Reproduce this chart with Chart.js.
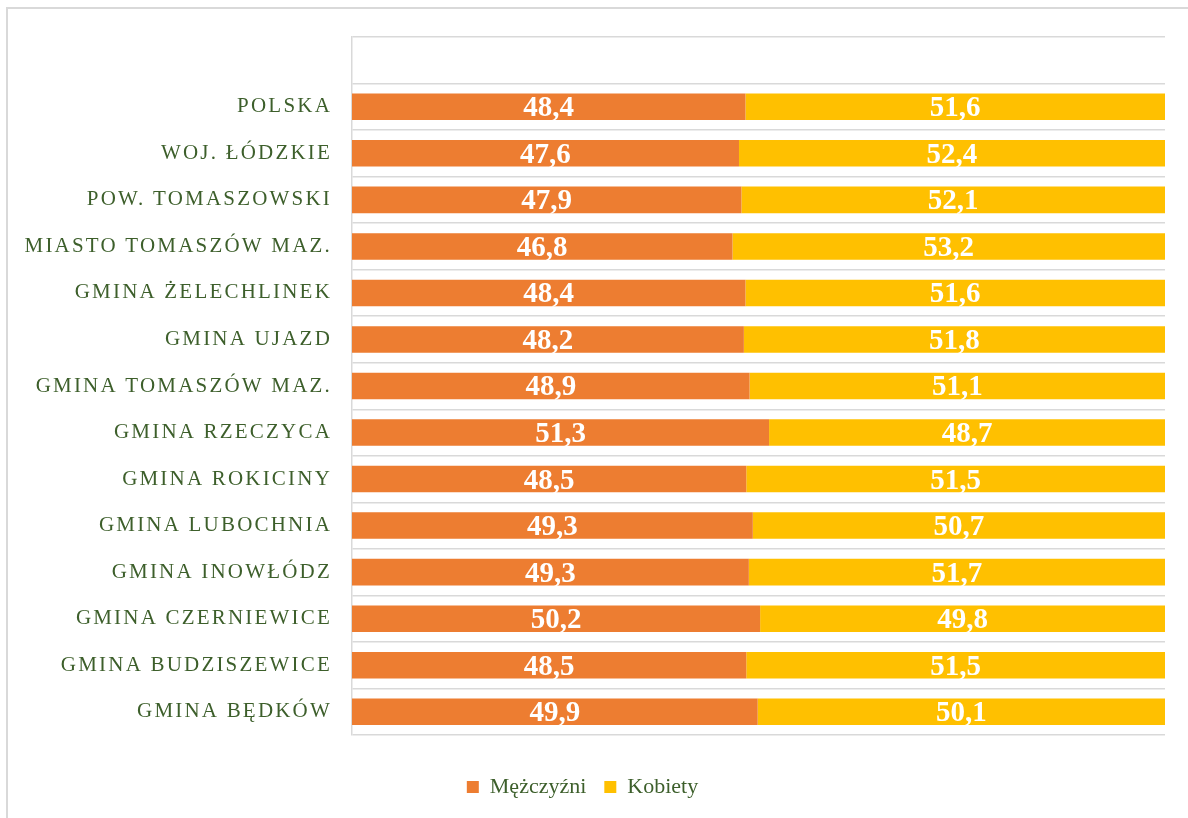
<!DOCTYPE html>
<html>
<head>
<meta charset="utf-8">
<script src="https://cdn.jsdelivr.net/npm/chart.js@4"></script>
<style>
  html, body { margin: 0; padding: 0; background: #fff; }
  #frame { position: absolute; left: 6px; top: 7px; width: 1300px; height: 900px;
           border-left: 2px solid #d9d9d9; border-top: 2px solid #d9d9d9; }
  #chart { position: absolute; left: 0; top: 0; }
</style>
</head>
<body>
<div id="frame"></div>
<canvas id="chart" width="1188" height="818"></canvas>
<script>
  const categories = [
    "POLSKA", "WOJ. ŁÓDZKIE", "POW. TOMASZOWSKI", "MIASTO TOMASZÓW MAZ.",
    "GMINA ŻELECHLINEK", "GMINA UJAZD", "GMINA TOMASZÓW MAZ.", "GMINA RZECZYCA",
    "GMINA ROKICINY", "GMINA LUBOCHNIA", "GMINA INOWŁÓDZ", "GMINA CZERNIEWICE",
    "GMINA BUDZISZEWICE", "GMINA BĘDKÓW",
  ];
  const men = [48.4, 47.6, 47.9, 46.8, 48.4, 48.2, 48.9, 51.3, 48.5, 49.3, 49.3, 50.2, 48.5, 49.9];
  const women = [51.6, 52.4, 52.1, 53.2, 51.6, 51.8, 51.1, 48.7, 51.5, 50.7, 51.7, 49.8, 51.5, 50.1];

  // 100% stacked: bars show shares, labels show the raw values
  const share = (a, b) => a.map((v, i) => v / (v + b[i]) * 100);
  const labels = [""].concat(categories);
  const raw = [[null].concat(men), [null].concat(women)];

  const green = "#3d5f2b";
  const serif = "'Liberation Serif', 'DejaVu Serif', serif";

  const valueLabels = {
    id: "valueLabels",
    afterDatasetsDraw(chart) {
      const ctx = chart.ctx;
      ctx.save();
      ctx.fillStyle = "#fff";
      ctx.font = "bold 29px " + serif;
      ctx.textAlign = "center";
      ctx.textBaseline = "middle";
      chart.data.datasets.forEach((ds, di) => {
        chart.getDatasetMeta(di).data.forEach((bar, i) => {
          const v = raw[di][i];
          if (v == null) return;
          ctx.fillText(v.toFixed(1).replace(".", ","), (bar.x + bar.base) / 2, bar.y + 2);
        });
      });
      ctx.restore();
      // y tick labels are drawn after this (ticks.z = 1), spaced out
      ctx.letterSpacing = "2.2px";
    },
    afterDraw(chart) {
      chart.ctx.letterSpacing = "0px";
    },
  };

  new Chart(document.getElementById("chart"), {
    type: "bar",
    data: {
      labels: labels,
      datasets: [
        {
          label: "Mężczyźni",
          data: [null].concat(share(men, women)),
          backgroundColor: "#ed7d31",
        },
        {
          label: "Kobiety",
          data: [null].concat(share(women, men)),
          backgroundColor: "#ffc000",
        },
      ],
    },
    options: {
      indexAxis: "y",
      responsive: false,
      animation: false,
      categoryPercentage: 1,
      barPercentage: 0.57,
      layout: { padding: { top: 37, right: 23, left: 0, bottom: 10 } },
      scales: {
        x: {
          stacked: true, min: 0, max: 100,
          afterFit(scale) { scale.height = 23; },
          grid: { display: false },
          border: { display: false },
          ticks: { display: false },
        },
        y: {
          stacked: true,
          afterFit(scale) { scale.width = 352; },
          grid: { color: "#d9d9d9", lineWidth: 1.5, drawTicks: false, offset: true },
          border: { color: "#d9d9d9", width: 1.5 },
          ticks: { z: 1, color: green, padding: 20, font: { family: serif, size: 21 } },
        },
      },
      plugins: {
        tooltip: { enabled: false },
        legend: {
          position: "bottom",
          labels: {
            color: green,
            boxWidth: 12,
            boxHeight: 12,
            padding: 18,
            font: { family: serif, size: 22 },
          },
        },
      },
    },
    plugins: [valueLabels],
  });
</script>
</body>
</html>
